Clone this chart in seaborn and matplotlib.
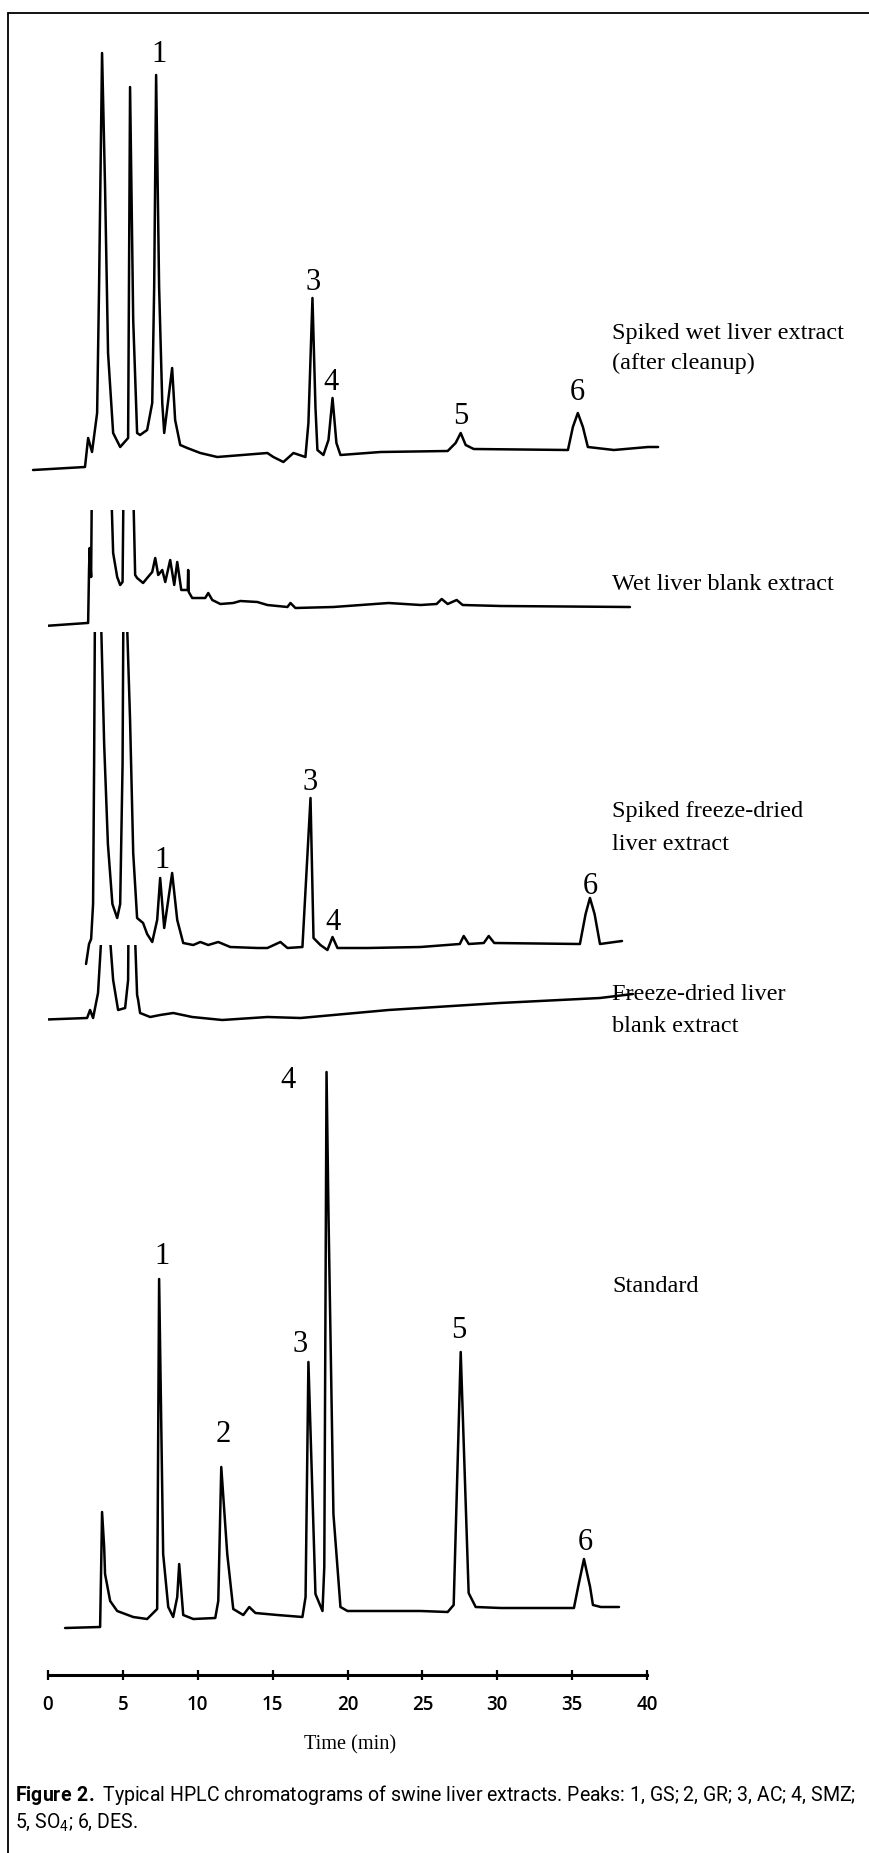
import numpy as np
import pandas as pd
import matplotlib
matplotlib.use("Agg")
import matplotlib.pyplot as plt
from matplotlib.lines import Line2D
import seaborn as sns

# ---------------------------------------------------------------------------
# DATA  (time in min, detector response in arbitrary units)
# ---------------------------------------------------------------------------
wet_spiked_t = [-1.00, 2.47, 2.68, 2.94, 3.28, 3.41, 3.61, 3.81, 4.01, 4.35, 4.82, 5.35, 5.48,
                5.69, 5.95, 6.15, 6.62, 6.96, 7.09, 7.22, 7.42, 7.63, 7.76, 8.29, 8.49, 8.83,
                9.30, 10.17, 11.30, 14.65, 15.05, 15.72, 16.39, 17.19, 17.39, 17.66, 17.86,
                17.99, 18.39, 18.73, 19.00, 19.26, 19.53, 22.21, 26.69, 27.22, 27.56, 27.89,
                28.43, 34.72, 35.05, 35.38, 35.72, 36.05, 37.79, 40.07, 40.74]
wet_spiked_r = [0, 3, 32, 18, 57, 183, 417, 283, 117, 37, 23, 32, 383,
                150, 37, 35, 40, 67, 183, 395, 183, 67, 37, 102, 50, 25,
                22, 17, 13, 17, 13, 8, 17, 13, 47, 172, 63,
                20, 15, 30, 72, 27, 15, 18, 19, 27, 37, 25,
                21, 20, 43, 57, 43, 23, 20, 23, 23]
wet_spiked_peaks = [1, 3, 4, 5, 6]
wet_spiked_peak_t = [7.42, 17.73, 18.93, 27.56, 35.32]

wet_blank_t = [-1.20, 2.61, 2.68, 2.74, 2.78, 2.88, 3.01, 3.60, 4.10, 4.35, 4.62, 4.82, 4.98,
               5.08, 5.30, 5.60, 5.82, 5.95, 6.35, 6.62, 6.96, 7.16, 7.36, 7.63, 7.83, 8.16,
               8.43, 8.63, 8.90, 9.16, 9.33, 9.36, 9.40, 9.63, 10.50, 10.70, 10.97, 11.51,
               12.37, 12.84, 13.98, 14.65, 15.99, 16.19, 16.52, 19.06, 22.74, 24.88, 25.95,
               26.29, 26.69, 27.29, 27.69, 30.23, 38.86]
wet_blank_r = [0, 4, 4, 57, 79, 50, 300, 400, 200, 74, 50, 42, 45,
               200, 400, 200, 52, 49, 44, 49, 55, 69, 52, 57, 45, 67,
               42, 65, 37, 37, 37, 57, 35, 29, 29, 34, 27, 23,
               24, 26, 25, 22, 20, 24, 19, 20, 24, 22, 23,
               28, 23, 27, 22, 21, 20]

fd_spiked_t = [2.54, 2.74, 2.88, 3.01, 3.08, 3.15, 3.30, 3.55, 3.75, 4.00, 4.30, 4.62, 4.82,
               4.98, 5.05, 5.15, 5.28, 5.48, 5.69, 5.95, 6.35, 6.62, 6.96, 7.29, 7.49, 7.76,
               8.29, 8.63, 9.03, 9.70, 10.17, 10.70, 11.37, 12.17, 13.98, 14.65, 15.52, 15.99,
               16.99, 17.53, 17.73, 18.19, 18.66, 19.00, 19.33, 21.34, 24.88, 27.50, 27.76,
               28.10, 29.10, 29.43, 29.80, 35.52, 35.90, 36.19, 36.50, 36.86, 38.33]
fd_spiked_r = [0, 20, 25, 60, 200, 400, 450, 340, 220, 120, 60, 46, 60,
               200, 400, 450, 340, 244, 111, 46, 41, 30, 22, 44, 86, 36,
               91, 44, 21, 19, 22, 19, 22, 17, 16, 16, 22, 16,
               17, 166, 26, 19, 14, 27, 16, 16, 17, 20, 28,
               20, 21, 28, 21, 20, 50, 66, 50, 20, 23]
fd_spiked_peaks = [1, 3, 4, 6]
fd_spiked_peak_t = [7.63, 17.53, 19.00, 36.19]

fd_blank_t = [-1.00, 2.61, 2.81, 3.01, 3.34, 3.55, 3.61, 3.90, 4.15, 4.35, 4.68, 5.15, 5.35,
              5.42, 5.70, 5.82, 5.95, 6.02, 6.15, 6.82, 7.49, 8.36, 9.63, 11.64, 14.65,
              16.86, 22.74, 30.17, 36.86, 39.06]
fd_blank_r = [0, 2, 10, 2, 27, 80, 200, 250, 80, 40, 10, 12, 40,
              200, 250, 80, 25, 20, 7, 3, 5, 7, 3, 0, 3,
              2, 10, 17, 22, 26]

std_t = [1.14, 3.48, 3.55, 3.61, 3.75, 3.81, 4.15, 4.62, 5.69, 6.62, 7.29, 7.42, 7.69,
         8.03, 8.36, 8.63, 8.76, 9.03, 9.70, 11.17, 11.37, 11.57, 11.97, 12.37, 13.04,
         13.44, 13.85, 15.32, 16.99, 17.20, 17.39, 17.86, 18.33, 18.45, 18.60, 18.73,
         19.06, 19.53, 20.00, 24.88, 26.69, 27.09, 27.56, 28.09, 28.56, 30.23, 35.12,
         35.40, 35.79, 36.20, 36.39, 36.92, 38.13]
std_r = [-1, 0, 60, 115, 80, 53, 26, 16, 10, 8, 18, 348, 73,
         20, 10, 30, 63, 12, 8, 9, 26, 160, 73, 18, 12,
         20, 14, 12, 10, 30, 265, 33, 16, 60, 555, 413,
         113, 20, 16, 16, 15, 22, 275, 34, 20, 19, 19,
         40, 68, 40, 22, 20, 20]
std_peaks = [1, 2, 3, 4, 5, 6]
std_peak_t = [7.63, 11.71, 16.86, 16.05, 27.42, 35.85]

trace_names = [["Spiked wet liver extract", "(after cleanup)"],
               ["Wet liver blank extract"],
               ["Spiked freeze-dried", "liver extract"],
               ["Freeze-dried liver", "blank extract"],
               ["Standard"]]

time_ticks = [0, 5, 10, 15, 20, 25, 30, 35, 40]
caption_1 = r"$\mathbf{Figure\ 2.}$ Typical HPLC chromatograms of swine liver extracts. Peaks: 1, GS; 2, GR; 3, AC; 4, SMZ;"
caption_2 = r"5, SO$_4$; 6, DES."

# ---------------------------------------------------------------------------
# LAYOUT (pixels of the 869 x 1853 page; 1 response unit == 1 pixel)
# ---------------------------------------------------------------------------
W, H = 869, 1853
X0, X40 = 48.0, 647.0                      # pixel x of t = 0 and t = 40 min
trace_base = [470, 627, 964, 1020, 1627]   # pixel y of each trace's zero level
trace_clip = [None, 117, 332, 75, None]    # off-scale peaks are cut at this response
peak_label_y = [[55, 283, 383, 417, 393],
                None,
                [860, 783, 922, 887],
                None,
                [1257, 1435, 1344, 1080, 1330, 1542]]
name_x = 612
name_y = [[333, 363], [585], [812, 844], [994, 1026], [1287]]
AXIS_Y = 1675

sns.set_theme(style="white")
plt.rcParams["font.family"] = ["Liberation Serif", "DejaVu Serif"]
plt.rcParams["mathtext.fontset"] = "custom"
plt.rcParams["mathtext.rm"] = "Roboto"
plt.rcParams["mathtext.bf"] = "Roboto:bold"
plt.rcParams["mathtext.default"] = "regular"

fig = plt.figure(figsize=(W / 100, H / 100), dpi=100)
fig.patch.set_facecolor("white")

traces = [(wet_spiked_t, wet_spiked_r, wet_spiked_peaks, wet_spiked_peak_t),
          (wet_blank_t, wet_blank_r, None, None),
          (fd_spiked_t, fd_spiked_r, fd_spiked_peaks, fd_spiked_peak_t),
          (fd_blank_t, fd_blank_r, None, None),
          (std_t, std_r, std_peaks, std_peak_t)]

for k, (t, r, pk, pk_t) in enumerate(traces):
    base = trace_base[k]
    clip = trace_clip[k]
    lo = -40
    hi = clip if clip is not None else 600
    ax = fig.add_axes([X0 / W, (H - (base - lo)) / H, (X40 - X0) / W, (hi - lo) / H])
    ax.set_xlim(0, 40)
    ax.set_ylim(lo, hi)
    ax.set_axis_off()
    df = pd.DataFrame({"t": t, "r": r})
    sns.lineplot(data=df, x="t", y="r", ax=ax, color="black", linewidth=1.8,
                 estimator=None, sort=False)
    ln = ax.lines[-1]
    ln.set_clip_on(clip is not None)
    ln.set_solid_joinstyle("round")
    if pk is not None:
        for n, tt, yy in zip(pk, pk_t, peak_label_y[k]):
            ax.text(tt, base - yy, str(n), ha="center", va="center", fontsize=22,
                    color="black", clip_on=False)
    for line_txt, yy in zip(trace_names[k], name_y[k]):
        fig.text(name_x / W, 1 - yy / H, line_txt, ha="left", va="center",
                 fontsize=17.5, color="black")

# time axis
axt = fig.add_axes([X0 / W, (H - AXIS_Y) / H, (X40 - X0) / W, 10 / H])
axt.set_xlim(0, 40)
axt.set_ylim(0, 1)
axt.patch.set_visible(False)
for s in ["top", "left", "right"]:
    axt.spines[s].set_visible(False)
axt.spines["bottom"].set_linewidth(2.2)
axt.spines["bottom"].set_color("black")
axt.set_yticks([])
axt.set_xticks(time_ticks)
axt.set_xticklabels([str(v) for v in time_ticks])
axt.tick_params(axis="x", direction="inout", length=7, width=1.6, pad=11,
                labelsize=13.5, colors="black", bottom=True)
for lbl in axt.get_xticklabels():
    lbl.set_family(["Open Sans", "DejaVu Sans"])
    lbl.set_fontweight("semibold")
fig.text(350 / W, 1 - 1745 / H, "Time (min)", ha="center", va="center",
         fontsize=14.6, color="black")

# caption, scaled so the first line spans the page like the original
c1 = fig.text(15 / W, 1 - 1795 / H, caption_1, ha="left", va="center", fontsize=12,
              family=["Roboto", "DejaVu Sans"], color="black")
c2 = fig.text(15 / W, 1 - 1822 / H, caption_2, ha="left", va="center", fontsize=12,
              family=["Roboto", "DejaVu Sans"], color="black")
fig.canvas.draw()
wpx = c1.get_window_extent().width
fs = 12 * (841.0 / wpx)
c1.set_fontsize(fs)
c2.set_fontsize(fs)

# page frame (left and top rules only)
fig.add_artist(Line2D([8 / W, 8 / W], [0, 1 - 12.5 / H], color="black", lw=1.3))
fig.add_artist(Line2D([8 / W, 1.0], [1 - 12.5 / H, 1 - 12.5 / H], color="black", lw=1.3))

fig.savefig("out.png", dpi=100, facecolor="white")
